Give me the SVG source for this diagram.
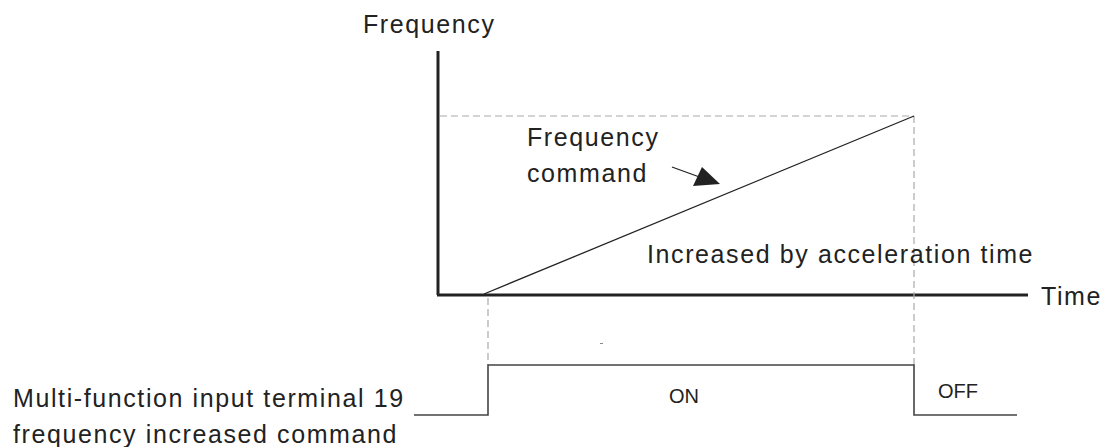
<svg xmlns="http://www.w3.org/2000/svg" width="1104" height="447" viewBox="0 0 1104 447">
<style>
.t{font-family:"Liberation Sans",Arial,sans-serif;font-size:25px;letter-spacing:1.6px;fill:#222}
.s{font-family:"Liberation Sans",Arial,sans-serif;font-size:20px;fill:#222}
.axis{stroke:#222;stroke-width:3;fill:none}
.dash{stroke:#aaa;stroke-width:1.2;stroke-dasharray:7,4;fill:none}
.sig{stroke:#444;stroke-width:1.6;fill:none}
</style>
<rect width="1104" height="447" fill="#fff"/>
<g id="axes">
<line class="axis" x1="438" y1="51" x2="438" y2="295"/>
<line class="axis" x1="437" y1="295" x2="1028" y2="295"/>
<text class="t" x="363" y="33">Frequency</text>
<text class="t" x="1041" y="305">Time</text>
</g>
<g id="guides">
<line class="dash" x1="440" y1="116" x2="914" y2="116"/>
<line class="dash" x1="914" y1="116" x2="914" y2="365"/>
<line class="dash" x1="488" y1="298" x2="488" y2="365"/>
</g>
<g id="ramp">
<line x1="484" y1="294" x2="914" y2="116" stroke="#222" stroke-width="1.3"/>
</g>
<g id="labels">
<text class="t" x="527" y="146">Frequency</text>
<text class="t" x="527" y="182">command</text>
<text class="t" x="647" y="263">Increased by acceleration time</text>
</g>
<g id="connectors">
<line x1="672" y1="167" x2="705" y2="179" stroke="#222" stroke-width="1.3"/>
<polygon points="720,184 693,186 702,167" fill="#222"/>
</g>
<g id="signal">
<polyline class="sig" points="414,415 488,415 488,365 914,365 914,415 1017,415"/>
<line x1="600" y1="343.5" x2="603" y2="343.5" stroke="#888" stroke-width="1"/>
<text class="s" x="669" y="403">ON</text>
<text class="s" x="938" y="398">OFF</text>
</g>
<g id="signal-label">
<text class="t" x="13" y="407">Multi-function input terminal 19</text>
<text class="t" x="13" y="443">frequency increased command</text>
</g>
</svg>
